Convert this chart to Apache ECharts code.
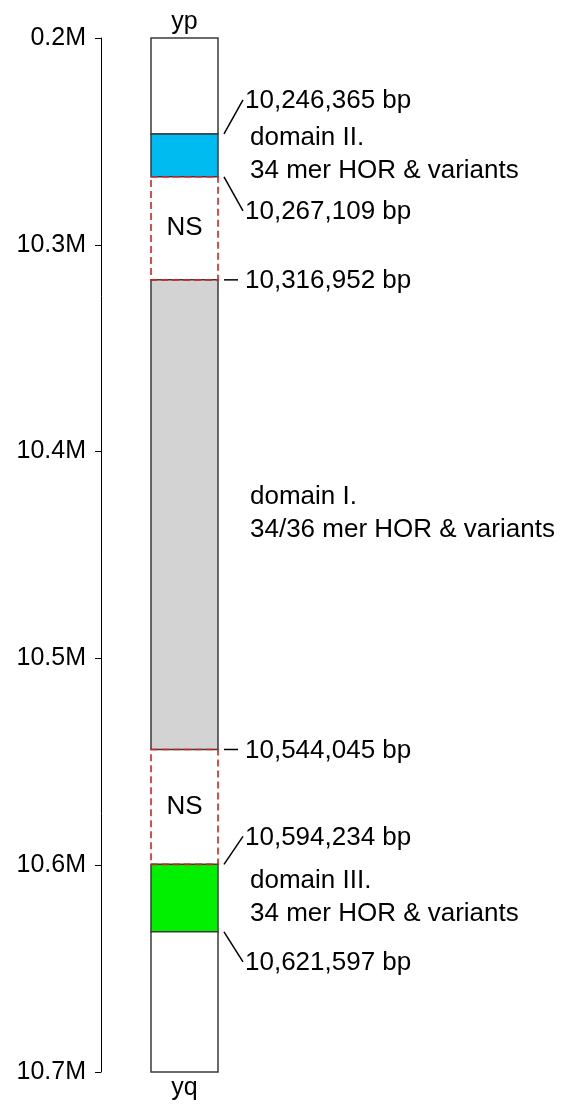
<!DOCTYPE html>
<html>
<head>
<meta charset="utf-8">
<script src="https://cdn.jsdelivr.net/npm/echarts@6/dist/echarts.min.js"></script>
<style>
  html, body { margin: 0; padding: 0; background: #fff; }
  #chart { width: 567px; height: 1107px; }
</style>
</head>
<body>
<div id="chart"></div>
<script>
// segments along the Y chromosome (bp), as drawn
var segStart = [10200000, 10246365, 10267109, 10316952, 10544045, 10599600, 10632200];
var segEnd   = [10246365, 10267109, 10316952, 10544045, 10599600, 10632200, 10700000];
var segKind  = ['plain', 'domII', 'ns', 'domI', 'ns', 'domIII', 'plain'];
var segLabel = ['', 'domain II.\n34 mer HOR & variants', 'NS', 'domain I.\n34/36 mer HOR & variants', 'NS', 'domain III.\n34 mer HOR & variants', ''];

// boundary annotations
var markPos  = [10246365, 10267109, 10316952, 10544045, 10599600, 10632200];
var markText = ['10,246,365 bp', '10,267,109 bp', '10,316,952 bp', '10,544,045 bp', '10,594,234 bp', '10,621,597 bp'];
var markDy   = [-34, 34, 0, 0, -28, 30]; // leader line offset in px

var tickLabels = ['0.2M', '10.3M', '10.4M', '10.5M', '10.6M', '10.7M'];
var endLabels = ['yp', 'yq'];

// bar occupies this part of the x range (axis sits at x = 0)
var BAR_X0 = 50, BAR_X1 = 117;

var FONT = '"Liberation Sans", Arial, Helvetica, sans-serif';
var FS = 25;   // axis labels
var FT = 26;   // annotation text
var fills = {plain: '#fff', domII: '#00bbf0', ns: 'rgba(255,255,255,0)', domI: '#d3d3d3', domIII: '#00f000'};

var segData = segStart.map(function (s, i) { return [s, segEnd[i], i]; });
// NS parts last so their dashed border sits on top
segData.sort(function (a, b) {
    return (segKind[a[2]] === 'ns') - (segKind[b[2]] === 'ns');
});
var markData = markPos.map(function (p, i) { return [p, i]; });

var chart = echarts.init(document.getElementById('chart'));
chart.setOption({
    animation: false,
    grid: {left: 101, right: 349, top: 38, bottom: 35},
    xAxis: {type: 'value', min: 0, max: BAR_X1, show: false},
    yAxis: {
        type: 'value', inverse: true,
        min: 10200000, max: 10700000, interval: 100000,
        position: 'left',
        axisLine: {show: true, lineStyle: {color: '#000', width: 1}},
        axisTick: {show: true, length: 6, lineStyle: {color: '#000'}},
        axisLabel: {
            margin: 15, fontSize: FS, color: '#000', fontFamily: FONT,
            formatter: function (v) {
                return tickLabels[Math.round((v - 10200000) / 100000)];
            }
        },
        splitLine: {show: false}
    },
    series: [
        {
            type: 'custom',
            clip: false,
            data: segData,
            renderItem: function (params, api) {
                var i = api.value(2);
                var kind = segKind[i];
                var p0 = api.coord([BAR_X0, api.value(0)]);
                var p1 = api.coord([BAR_X1, api.value(1)]);
                var kids = [];
                kids.push({
                    type: 'rect',
                    shape: {x: p0[0], y: p0[1], width: p1[0] - p0[0], height: p1[1] - p0[1]},
                    style: kind === 'ns'
                        ? {fill: fills.ns, stroke: '#cc2424', lineWidth: 1.6, lineDash: [7, 4]}
                        : {fill: fills[kind], stroke: '#3a3a3a', lineWidth: 1.5}
                });
                var mid = (p0[1] + p1[1]) / 2;
                if (kind === 'ns') {
                    kids.push({type: 'text', style: {
                        text: segLabel[i], x: (p0[0] + p1[0]) / 2, y: mid,
                        align: 'center', verticalAlign: 'middle',
                        fontSize: FT, fontFamily: FONT, fill: '#000'}});
                } else if (segLabel[i]) {
                    kids.push({type: 'text', style: {
                        text: segLabel[i], x: p1[0] + 32, y: mid - 1,
                        align: 'left', verticalAlign: 'middle', lineHeight: 33,
                        fontSize: FT, fontFamily: FONT, fill: '#000'}});
                }
                if (i === 0) {
                    kids.push({type: 'text', style: {
                        text: endLabels[0], x: (p0[0] + p1[0]) / 2, y: p0[1] - 3,
                        align: 'center', verticalAlign: 'bottom',
                        fontSize: FS, fontFamily: FONT, fill: '#000'}});
                }
                if (i === segStart.length - 1) {
                    kids.push({type: 'text', style: {
                        text: endLabels[1], x: (p0[0] + p1[0]) / 2, y: p1[1] + 4,
                        align: 'center', verticalAlign: 'top',
                        fontSize: FS, fontFamily: FONT, fill: '#000'}});
                }
                return {type: 'group', children: kids};
            }
        },
        {
            type: 'custom',
            clip: false,
            data: markData,
            renderItem: function (params, api) {
                var i = api.value(1);
                var p = api.coord([BAR_X1, api.value(0)]);
                var dy = markDy[i];
                var x1 = p[0] + 6, y1 = p[1];
                var x2 = dy === 0 ? p[0] + 20 : p[0] + 25;
                var y2 = p[1] + dy;
                return {type: 'group', children: [
                    {type: 'line', shape: {x1: x1, y1: y1, x2: x2, y2: y2},
                        style: {stroke: '#000', lineWidth: 1.5}},
                    {type: 'text', style: {
                        text: markText[i], x: p[0] + 27, y: y2 + 1,
                        align: 'left', verticalAlign: 'middle',
                        fontSize: FT, fontFamily: FONT, fill: '#000'}}
                ]};
            }
        }
    ]
});
</script>
</body>
</html>
